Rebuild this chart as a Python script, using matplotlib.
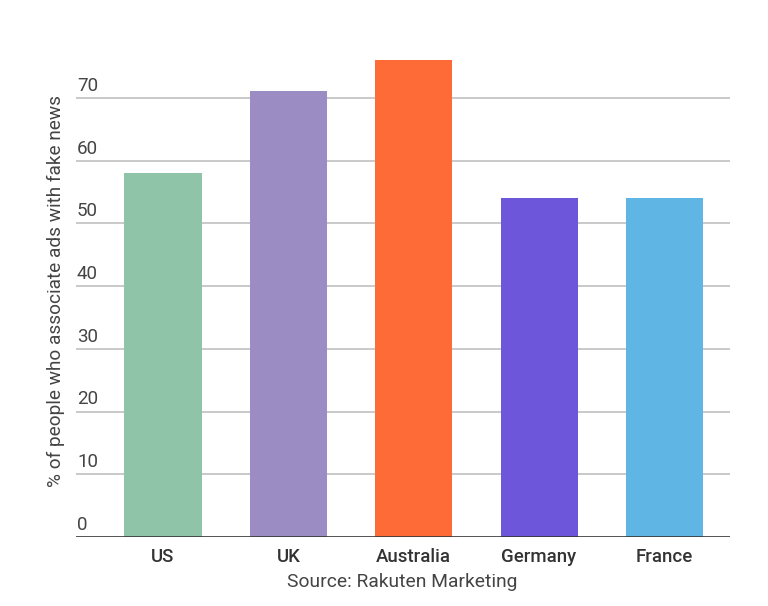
import matplotlib
matplotlib.use("Agg")
import matplotlib.pyplot as plt

categories = ["US", "UK", "Australia", "Germany", "France"]
values = [58, 71, 76, 54, 54]
colors = ["#8FC4A8", "#9B8DC4", "#FF6B36", "#6D56D9", "#5FB5E3"]
yticks = [0, 10, 20, 30, 40, 50, 60, 70]

plt.rcParams['font.family'] = ['Roboto', 'DejaVu Sans']

fig = plt.figure(figsize=(7.68, 6.06), dpi=100)
ax = fig.add_axes([76/768, 1-537/606, (730-76)/768, (537-35)/606])

x = list(range(len(categories)))
ax.bar(x, values, width=0.615, color=colors, zorder=3)

ax.set_xlim(-0.694, 4.523)
ax.set_ylim(0, 80)

for v in yticks:
    if v == 0:
        ax.axhline(v, color="#333333", linewidth=1.9, zorder=4)
    else:
        ax.axhline(v, color="#bbbbbb", linewidth=1.1, zorder=1)
    ax.annotate(str(v), xy=(0, v), xycoords=ax.get_yaxis_transform(),
                xytext=(1, 3), textcoords="offset pixels",
                ha="left", va="bottom", fontsize=13.5, color="#444444")

ax.set_yticks([])
ax.set_xticks(x)
ax.set_xticklabels(categories, fontsize=13.4, color="#333333", fontweight="medium")
ax.tick_params(axis="x", length=0, pad=8)
for s in ax.spines.values():
    s.set_visible(False)

fig.text(56/768, 1-291/606, "% of people who associate ads with fake news",
         rotation=90, ha="center", va="center", fontsize=13.7, color="#444444")
fig.text(402/768, 1-582/606, "Source: Rakuten Marketing",
         ha="center", va="center", fontsize=13.9, color="#444444")

fig.savefig("out.png", dpi=100)
